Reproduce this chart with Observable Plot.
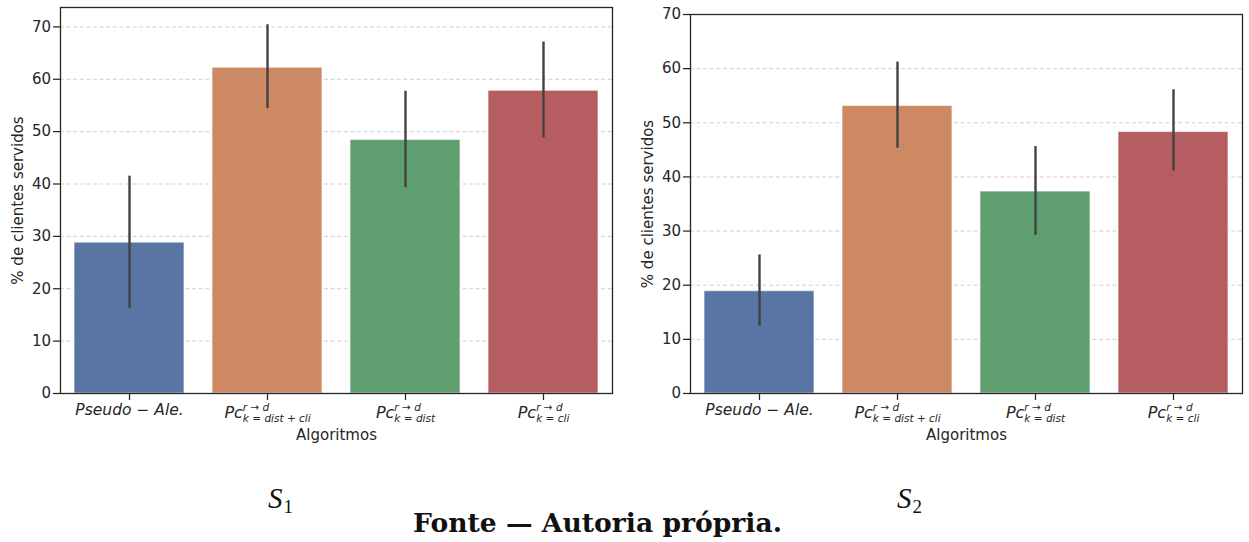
<!DOCTYPE html>
<html>
<head>
<meta charset="utf-8">
<script src="https://cdn.jsdelivr.net/npm/d3@7"></script>
<script src="https://cdn.jsdelivr.net/npm/@observablehq/plot@0.6"></script>
<style>
  html, body { margin: 0; padding: 0; background: #fff; }
  #page { position: relative; width: 1249px; height: 542px; overflow: hidden; font-family: "DejaVu Sans", sans-serif; }
  .painel { position: absolute; top: 0; }
  .cenario { position: absolute; font-family: "Liberation Serif", "DejaVu Serif", serif; font-style: italic; font-size: 29px; line-height: 28px; color: #111; }
  .cenario sub { font-style: normal; font-size: 19px; vertical-align: -5px; line-height: 0; margin-left: 1px; }
  #fonte { position: absolute; left: 0; width: 1195px; top: 508px; text-align: center; font-family: "DejaVu Serif", "Liberation Serif", serif; font-weight: bold; font-size: 26.6px; line-height: 30px; color: #111; }
</style>
</head>
<body>
<div id="page">
  <div id="s1" class="painel" style="left:0px"></div>
  <div id="s2" class="painel" style="left:630px"></div>
  <div class="cenario" style="left:268px; top:484px">S<sub>1</sub></div>
  <div class="cenario" style="left:897px; top:484px">S<sub>2</sub></div>
  <div id="fonte">Fonte — Autoria própria.</div>
</div>
<script>
// Algorithms compared (mathtext-like: base^{sup}_{sub})
const categorias = [
  "Pseudo − Ale.",
  "Pc^{r → d}_{k = dist + cli}",
  "Pc^{r → d}_{k = dist}",
  "Pc^{r → d}_{k = cli}"
];
const cores = ["#5975a4", "#cc8963", "#5f9e6e", "#b55d60"];

// Scenario S1: mean % of clients served and confidence interval
const s1Media    = [28.8, 62.2, 48.4, 57.8];
const s1Inferior = [16.2, 54.4, 39.3, 48.8];
const s1Superior = [41.5, 70.4, 57.7, 67.1];

// Scenario S2
const s2Media    = [18.9, 53.1, 37.3, 48.3];
const s2Inferior = [12.4, 45.3, 29.2, 41.1];
const s2Superior = [25.6, 61.2, 45.6, 56.1];

const yTicks = [0, 10, 20, 30, 40, 50, 60, 70];
const rotuloY = "% de clientes servidos";
const rotuloX = "Algoritmos";

const tinta = "#262626";

function tabela(media, inf, sup) {
  return categorias.map((alg, i) => ({alg, media: media[i], inf: inf[i], sup: sup[i]}));
}

function grafico(dados, {width, marginRight, marginTop, yMax, gridTicks}) {
  return Plot.plot({
    width,
    height: 450,
    marginLeft: 60,
    marginRight,
    marginTop,
    marginBottom: 57,
    style: {fontFamily: "DejaVu Sans", fontSize: "15px", color: tinta, background: "white", overflow: "visible"},
    x: {domain: categorias, paddingInner: 0.2, paddingOuter: 0.1, align: 0.5},
    y: {domain: [0, yMax]},
    color: {domain: categorias, range: cores},
    marks: [
      Plot.gridY(gridTicks, {stroke: "#cfcfcf", strokeOpacity: 1, strokeWidth: 1, strokeDasharray: "4,2.6"}),
      Plot.barY(dados, {x: "alg", y: "media", fill: "alg", stroke: "white", strokeOpacity: 0.55, strokeWidth: 1.2}),
      Plot.ruleX(dados, {x: "alg", y1: "inf", y2: "sup", stroke: "#424242", strokeWidth: 2.4}),
      Plot.frame({stroke: tinta, strokeWidth: 1.3}),
      Plot.axisY({ticks: yTicks, tickSize: 7, tickPadding: 2.5, label: null, stroke: tinta, strokeWidth: 1.25}),
      Plot.axisX({tickSize: 7, tickPadding: 4, label: null, stroke: tinta, strokeWidth: 1.25}),
      Plot.text([rotuloY], {frameAnchor: "left", dx: -42, rotate: -90, textAnchor: "middle", lineAnchor: "middle", fontSize: 15, fill: tinta}),
      Plot.text([rotuloX], {frameAnchor: "bottom", dy: 42, textAnchor: "middle", lineAnchor: "middle", fontSize: 15, fill: tinta})
    ]
  });
}

// Turn "base^{sup}_{sub}" tick strings into italic text with stacked scripts
function formatarRotulos(svg) {
  const NS = "http://www.w3.org/2000/svg";
  d3.select(svg).selectAll('g[aria-label="x-axis tick label"] text').each(function() {
    const t = this;
    const s = t.textContent;
    while (t.firstChild) t.removeChild(t.firstChild);
    t.setAttribute("text-anchor", "start");
    t.setAttribute("font-style", "italic");
    const m = s.match(/^(.*)\^\{(.*)\}_\{(.*)\}$/);
    const base = document.createElementNS(NS, "tspan");
    base.textContent = m ? m[1] : s;
    base.setAttribute("font-size", "15.5px");
    t.appendChild(base);
    let total;
    if (m) {
      base.setAttribute("font-size", "16px");
      base.setAttribute("dy", "3");
      const sup = document.createElementNS(NS, "tspan");
      sup.textContent = m[2];
      sup.setAttribute("font-size", "10.5px");
      sup.setAttribute("dy", "-6.8");
      t.appendChild(sup);
      const sub = document.createElementNS(NS, "tspan");
      sub.textContent = m[3];
      sub.setAttribute("font-size", "10.5px");
      t.appendChild(sub);
      const wb = base.getComputedTextLength();
      const ws = sup.getComputedTextLength();
      sub.setAttribute("dx", String(-ws));
      sub.setAttribute("dy", "10.8");
      const wsub = sub.getComputedTextLength();
      total = wb + Math.max(ws, wsub);
    } else {
      total = base.getComputedTextLength();
    }
    base.setAttribute("dx", String(-total / 2));
  });
}

const g1 = grafico(tabela(s1Media, s1Inferior, s1Superior), {width: 620, marginRight: 8, marginTop: 7, yMax: 73.7, gridTicks: [10, 20, 30, 40, 50, 60, 70]});
const g2 = grafico(tabela(s2Media, s2Inferior, s2Superior), {width: 619, marginRight: 7, marginTop: 14, yMax: 70, gridTicks: [10, 20, 30, 40, 50, 60]});
document.getElementById("s1").appendChild(g1);
document.getElementById("s2").appendChild(g2);
formatarRotulos(g1);
formatarRotulos(g2);
</script>
</body>
</html>
